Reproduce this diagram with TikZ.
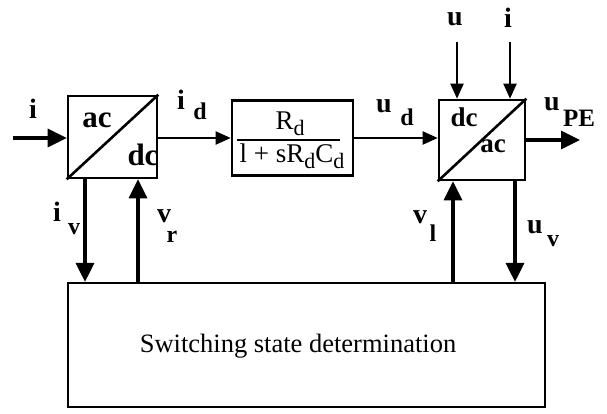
\documentclass[tikz,border=0pt]{standalone}
\usepackage{fontspec}
\setmainfont{Liberation Serif}
\usetikzlibrary{arrows.meta}
\begin{document}
\begin{tikzpicture}[x=1pt,y=-1pt,
  blk/.style={draw,line width=2.6pt,inner sep=0pt},
  arr/.style={line width=3.4pt,-{Triangle[length=19pt,width=18pt]}},
  tarr/.style={line width=2pt,-{Triangle[length=15pt,width=13pt]}},
  lab/.style={font=\fontsize{28}{30}\selectfont\bfseries,inner sep=0pt},
  sub/.style={font=\fontsize{24}{26}\selectfont\bfseries,inner sep=0pt},
  reg/.style={font=\fontsize{27}{30}\selectfont,inner sep=0pt}]
\useasboundingbox (0,0) rectangle (607,414);
% blocks
\node[blk,minimum width=89pt,minimum height=82pt] (b1) at (112.5,137) {};
\node[blk,minimum width=121pt,minimum height=75pt] (b2) at (292.5,138) {};
\node[blk,minimum width=86pt,minimum height=80pt] (b3) at (482,140) {};
\node[draw,line width=2.2pt,inner sep=0pt,minimum width=477pt,minimum height=124pt] (big) at (306.5,345) {};
% diagonals and texts
\draw[line width=2.6pt] (b1.south west) -- (b1.north east);
\draw[line width=2.6pt] (b3.south west) -- (b3.north east);
\node[inner sep=0pt,font=\fontsize{31}{32}\selectfont\bfseries] (t1a) at (97,120) {ac};
\node[inner sep=0pt,font=\fontsize{31}{32}\selectfont\bfseries] (t1b) at (143,155) {dc};
\node[inner sep=0pt,font=\fontsize{27}{30}\selectfont\bfseries] (t3a) at (464,117) {dc};
\node[inner sep=0pt,font=\fontsize{27}{30}\selectfont\bfseries] (t3b) at (493,146) {ac};
% transfer function
\node[reg] (num) at (290,124) {R\raisebox{-6pt}{\fontsize{22}{22}\selectfont d}};
\draw[line width=1.8pt] (237,140) -- (340,140);
\node[reg] (den) at (292,156) {l + sR\raisebox{-6pt}{\fontsize{22}{22}\selectfont d}C\raisebox{-6pt}{\fontsize{22}{22}\selectfont d}};
\node[inner sep=0pt,font=\fontsize{26.5}{28}\selectfont] (sw) at (298,346) {Switching state determination};
% coordinates
\coordinate (cin) at (13,138);
\coordinate (cout) at (580,140);
\coordinate (xiv) at (85,0);
\coordinate (xvr) at (138,0);
\coordinate (xvl) at (453,0);
\coordinate (xuv) at (515,0);
\coordinate (uin) at (457,42);
\coordinate (iin) at (510,42);
% connectors
\draw[arr] (cin) -- (b1.west |- cin);
\draw[tarr] (b1.east |- cin) -- (b2.west |- cin);
\draw[tarr] (b2.east) -- (b2.east -| b3.west);
\draw[arr] (b3.east) -- (cout);
\draw[tarr] (uin) -- (uin |- b3.north);
\draw[tarr] (iin) -- (iin |- b3.north);
\draw[arr] (xiv |- b1.south) -- (xiv |- big.north);
\draw[arr] (xvr |- big.north) -- (xvr |- b1.south);
\draw[arr] (xvl |- big.north) -- (xvl |- b3.south);
\draw[arr] (xuv |- b3.south) -- (xuv |- big.north);
% labels
\node[lab] (li) at (33,109) {i};
\node[lab] (lid1) at (181,100) {i};
\node[sub] (lid2) at (200,111) {d};
\node[lab] (lud1) at (384,106) {u};
\node[sub] (lud2) at (407,117) {d};
\node[lab] (lupe1) at (552,104) {u};
\node[inner sep=0pt,font=\fontsize{25}{27}\selectfont\bfseries] (lupe2) at (579,118) {PE};
\node[lab] (lu) at (455,19) {u};
\node[lab] (li2) at (508,18) {i};
\node[lab] (liv1) at (57,212) {i};
\node[sub] (liv2) at (74,229) {v};
\node[lab] (lvr1) at (164,216) {v};
\node[sub] (lvr2) at (172,237) {r};
\node[lab] (lvl1) at (420,217) {v};
\node[sub] (lvl2) at (433,233) {l};
\node[lab] (luv1) at (535,227) {u};
\node[sub] (luv2) at (553,241) {v};
\end{tikzpicture}
\end{document}
